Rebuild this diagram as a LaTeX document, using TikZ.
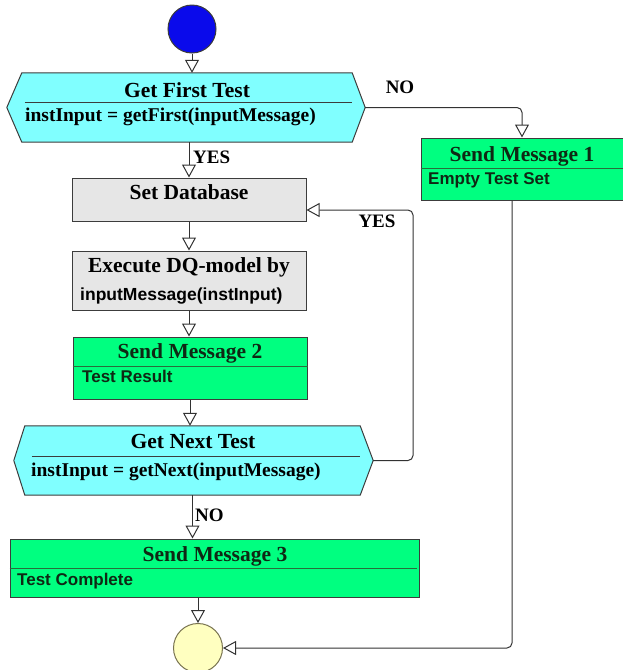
\documentclass[tikz,border=0pt]{standalone}
\usepackage{fontspec}
\setmainfont{Liberation Serif}
\setsansfont{Liberation Sans}
\usetikzlibrary{arrows.meta,calc}
\definecolor{cyanf}{RGB}{128,255,255}
\definecolor{greenf}{RGB}{0,255,128}
\definecolor{grayf}{RGB}{230,230,230}
\definecolor{bluef}{RGB}{10,10,235}
\definecolor{yellowf}{RGB}{255,255,192}
\definecolor{linec}{RGB}{50,50,50}
\definecolor{bordc}{RGB}{60,60,60}
\definecolor{endbord}{RGB}{120,115,80}
\definecolor{greentext}{RGB}{15,40,20}
\definecolor{greendiv}{RGB}{40,110,60}
\begin{document}
\begin{tikzpicture}[x=1pt,y=-1pt,
  ttl/.style={font=\fontsize{21.5}{24}\selectfont\bfseries, inner sep=0, anchor=base},
  sertxt/.style={font=\fontsize{19.5}{22}\selectfont\bfseries, inner sep=0, anchor=base west},
  santxt/.style={font=\sffamily\fontsize{17}{20}\selectfont\bfseries, inner sep=0, anchor=base west},
  lbl/.style={font=\fontsize{19}{22}\selectfont\bfseries, inner sep=0, anchor=base},
  frame/.style={draw=bordc, line width=1pt},
  grayrect/.style={frame, fill=grayf, inner sep=0},
  greenrect/.style={frame, fill=greenf, inner sep=0},
  hexcore/.style={inner sep=0},
  divline/.style={draw=bordc, line width=1pt},
  gdivline/.style={draw=greendiv, line width=1pt},
  conn/.style={draw=linec, line width=1pt, rounded corners=5pt, -{Triangle[open,length=13pt,width=14pt]}}]
\useasboundingbox (0,0) rectangle (622,670);

% start
\node[circle, draw=bordc, fill=bluef, line width=1pt, minimum size=48, inner sep=0] (start) at (192,29) {};

% Get First Test hexagon
\node[hexcore, minimum width=330, minimum height=69] (hex1) at (187,107.5) {};
\coordinate (h1e) at ($(hex1.east)+(13,0)$);
\coordinate (h1w) at ($(hex1.west)+(-15,0)$);
\draw[frame, fill=cyanf] (hex1.north west) -- (hex1.north east) -- (h1e) -- (hex1.south east) -- (hex1.south west) -- (h1w) -- cycle;
\draw[divline] ($(hex1.north west)+(3,30)$) -- ($(hex1.north east)+(0,30)$);
\node[ttl] (h1t) at (187,97) {Get First Test};
\node[sertxt] (h1b) at (25,121) {instInput = getFirst(inputMessage)};

% Send Message 1
\node[greenrect, minimum width=202, minimum height=62] (sm1) at (522,169) {};
\draw[gdivline] ($(sm1.north west)+(0,31)$) -- ($(sm1.north east)+(0,31)$);
\node[ttl, text=greentext] (sm1t) at (522,161) {Send Message 1};
\node[santxt, text=greentext] (sm1b) at (428,184) {Empty Test Set};

% Set Database
\node[grayrect, minimum width=234, minimum height=43] (setdb) at (189,199.5) {};
\node[ttl] (sdbt) at (189,199) {Set Database};

% Execute
\node[grayrect, minimum width=234, minimum height=59] (exec) at (189,280.5) {};
\node[ttl] (ext) at (189,272) {Execute DQ-model by};
\node[santxt, font=\sffamily\fontsize{17.5}{20}\selectfont\bfseries] (exb) at (80,300) {inputMessage(instInput)};

% Send Message 2
\node[greenrect, minimum width=234, minimum height=62] (sm2) at (190,368) {};
\draw[gdivline] ($(sm2.north west)+(0,30)$) -- ($(sm2.north east)+(0,30)$);
\node[ttl, text=greentext] (sm2t) at (190,358) {Send Message 2};
\node[santxt, text=greentext] (sm2b) at (82,382) {Test Result};

% Get Next Test hexagon
\node[hexcore, minimum width=335, minimum height=69] (hex2) at (192.5,460.5) {};
\coordinate (h2e) at ($(hex2.east)+(13,0)$);
\coordinate (h2w) at ($(hex2.west)+(-11,0)$);
\draw[frame, fill=cyanf] (hex2.north west) -- (hex2.north east) -- (h2e) -- (hex2.south east) -- (hex2.south west) -- (h2w) -- cycle;
\draw[divline] ($(hex2.north west)+(7,31)$) -- ($(hex2.north east)+(0,31)$);
\node[ttl] (h2t) at (193,448) {Get Next Test};
\node[sertxt] (h2b) at (31,476) {instInput = getNext(inputMessage)};

% Send Message 3
\node[greenrect, minimum width=409, minimum height=58] (sm3) at (214.5,568) {};
\draw[gdivline] ($(sm3.north west)+(0,30)$) -- ($(sm3.north east)+(-3,30)$);
\node[ttl, text=greentext] (sm3t) at (215,561) {Send Message 3};
\node[santxt, text=greentext] (sm3b) at (17,585) {Test Complete};

% end
\node[circle, draw=endbord, fill=yellowf, line width=1pt, minimum size=49, inner sep=0] (endc) at (198,648) {};

% connectors
\draw[conn] (start.south) -- (start.south |- hex1.north);
\draw[conn] (setdb.north |- hex1.south) -- (setdb.north);
\draw[conn] (setdb.south) -- (exec.north);
\draw[conn] (exec.south) -- (exec.south |- sm2.north);
\draw[conn] (sm2.south) -- (sm2.south |- hex2.north);
\draw[conn] (hex2.south) -- (hex2.south |- sm3.north);
\draw[conn] (endc.north |- sm3.south) -- (endc.north);
\draw[conn] (h1e) -| (sm1.north);
\coordinate (loop) at (413,210);
\draw[conn] (h2e) -| (loop) -- (setdb.east |- loop);
\draw[conn] ([xshift=-10pt]sm1.south) |- (endc.east);

% labels
\node[lbl, anchor=base west] (yes1) at (193,163) {YES};
\node[lbl] (no1) at (400,93) {NO};
\node[lbl] (yes2) at (377,227) {YES};
\node[lbl, anchor=base west] (no2) at (195,521) {NO};
\end{tikzpicture}
\end{document}
